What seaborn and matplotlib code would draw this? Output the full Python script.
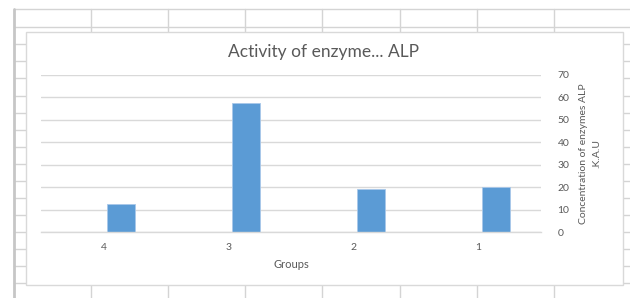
import numpy as np
import pandas as pd
import seaborn as sns
import matplotlib
matplotlib.use("Agg")
from matplotlib import pyplot as plt
from matplotlib.lines import Line2D
from matplotlib.patches import Rectangle

# chart data
groups = ["4", "3", "2", "1"]
alp_values = [12.4, 57.6, 19.0, 19.9]
series_name = "ALP"
empty_series = "empty"  # blank series that Excel kept a slot for
y_ticks = [0, 10, 20, 30, 40, 50, 60, 70]

title = "Activity of enzyme... ALP"
x_title = "Groups"
y_title = "Concentration of enzymes ALP\n.K.A.U"

BAR = "#5B9BD5"
GRID = "#D9D9D9"
TEXT = "#595959"
SHEET = "#D4D4D4"

W, H = 630, 298

sns.set_style("white")
plt.rcParams["font.family"] = ["Lato", "DejaVu Sans"]


def fx(x):
    return x / W


def fy(y):
    return 1 - y / H


df = pd.concat([
    pd.DataFrame({"group": groups, "value": [np.nan] * len(groups), "series": empty_series}),
    pd.DataFrame({"group": groups, "value": alp_values, "series": series_name}),
], ignore_index=True)

fig = plt.figure(figsize=(W / 100, H / 100), dpi=100)
fig.patch.set_facecolor("white")

# spreadsheet cells behind the chart
for x in [91, 168, 245, 322, 400, 477, 554]:
    fig.add_artist(Line2D([fx(x), fx(x)], [fy(9), fy(H)], color=SHEET, lw=1, zorder=-3))
for y in [9, 27, 44, 61, 78, 96, 113, 130, 147, 164, 181, 198, 215, 232, 249, 266, 283]:
    fig.add_artist(Line2D([fx(14), 1], [fy(y), fy(y)], color=SHEET, lw=1, zorder=-3))
fig.add_artist(Line2D([fx(14), fx(14)], [fy(9), fy(H)], color="#C6C6C6", lw=2, zorder=-3))

# chart area
fig.add_artist(Rectangle((fx(26), fy(285)), fx(623) - fx(26), fy(32) - fy(285),
                         facecolor="white", edgecolor=GRID, lw=1, zorder=-1))

ax = fig.add_axes([fx(41), fy(232), fx(541) - fx(41), fy(75) - fy(232)])
sns.barplot(data=df, x="group", y="value", hue="series", order=groups,
            hue_order=[empty_series, series_name],
            palette={empty_series: BAR, series_name: BAR}, saturation=1,
            dodge=True, width=0.56, gap=0.21, edgecolor="#A9C8EA", linewidth=0.6,
            errorbar=None, legend=False, ax=ax)

ax.set_xlim(-0.5, 3.5)
ax.set_ylim(0, 70)
ax.set_yticks(y_ticks)
ax.yaxis.tick_right()
ax.grid(axis="y", color=GRID, lw=1)
ax.set_axisbelow(True)
for side in ["left", "right", "top"]:
    ax.spines[side].set_visible(False)
ax.spines["bottom"].set_color(GRID)
ax.spines["bottom"].set_linewidth(1)
ax.tick_params(axis="both", length=0, labelsize=7.5, colors=TEXT)
ax.tick_params(axis="x", pad=8)
ax.tick_params(axis="y", pad=12)
for lab in ax.get_yticklabels():
    lab.set_horizontalalignment("left")
ax.set_xlabel("")
ax.set_ylabel("")
ax.patch.set_alpha(0)

fig.text(fx(324), fy(52), title, ha="center", va="center", fontsize=12.5, color=TEXT)
fig.text(fx(291), fy(265), x_title, ha="center", va="center", fontsize=8, color=TEXT)
fig.text(fx(590), fy(154), y_title, ha="center", va="center", rotation=90,
         multialignment="center", linespacing=1.7, fontsize=7.5, color=TEXT)

fig.savefig("out.png", dpi=100, facecolor="white")
